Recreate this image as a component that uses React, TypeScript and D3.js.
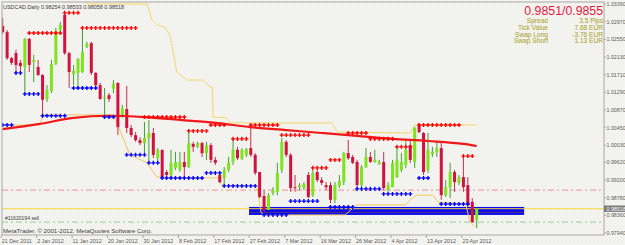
import React from 'react';
import * as d3 from 'd3';

const W = 625;
const H = 245;

// OHLC per daily bar (index 0 = 21 Dec 2011)
const opens = [1.0287,1.0272,1.0210,1.0222,1.0199,1.0189,1.0256,1.0201,1.0189,1.0170,1.0113,1.0132,1.0196,1.0277,1.0313,1.0222,1.0172,1.0175,1.0177,1.0237,1.0246,1.0175,1.0146,1.0115,1.0122,1.0137,1.0151,1.0070,1.0089,1.0044,1.0027,1.0015,1.0008,1.0020,1.0032,0.9972,0.9992,0.9939,0.9932,0.9949,0.9944,0.9963,0.9951,1.0006,0.9999,1.0008,0.9984,1.0003,0.9968,0.9932,0.9925,0.9944,0.9963,0.9992,0.9970,0.9980,0.9996,0.9980,0.9939,0.9882,0.9849,0.9889,0.9892,0.9944,1.0011,0.9980,0.9903,0.9903,0.9901,0.9932,0.9884,0.9939,0.9920,0.9908,0.9908,0.9873,0.9906,0.9915,0.9984,0.9975,0.9963,0.9908,0.9951,0.9975,0.9963,0.9958,0.9963,0.9896,0.9903,0.9927,0.9944,0.9956,1.0003,0.9963,1.0051,1.0032,0.9944,0.9982,0.9987,0.9996,0.9884,0.9903,0.9939,0.9913,0.9927,0.9908,0.9868,0.98254];
const highs = [1.0306,1.0277,1.0213,1.0230,1.0206,1.0258,1.0258,1.0218,1.0206,1.0172,1.0146,1.0206,1.0282,1.0296,1.0318,1.0225,1.0194,1.0210,1.0282,1.0249,1.0249,1.0177,1.0151,1.0139,1.0127,1.0158,1.0153,1.0099,1.0144,1.0051,1.0034,1.0022,1.0058,1.0063,1.0044,0.9996,0.9992,0.9944,0.9992,0.9987,0.9987,0.9987,1.0034,1.0011,1.0011,1.0011,1.0011,1.0008,0.9975,0.9939,0.9951,0.9975,1.0020,0.9999,0.9996,0.9996,1.0051,0.9984,0.9939,0.9896,0.9889,0.9903,0.9961,1.0020,1.0015,0.9984,0.9932,0.9913,0.9915,0.9939,0.9944,0.9944,0.9927,0.9915,0.9915,0.9915,0.9932,0.9987,1.0015,0.9980,0.9968,0.9956,0.9996,0.9987,0.9992,0.9968,0.9987,0.9915,0.9968,0.9999,0.9984,1.0015,1.0015,1.0046,1.0056,1.0034,1.0032,0.9999,1.0011,1.0011,0.9920,0.9961,0.9944,0.9932,0.9980,0.9927,0.9877,0.98533];
const lows = [1.0268,1.0206,1.0194,1.0177,1.0177,1.0130,1.0177,1.0153,1.0168,1.0068,1.0106,1.0127,1.0194,1.0270,1.0218,1.0139,1.0146,1.0139,1.0175,1.0234,1.0170,1.0141,1.0111,1.0068,1.0106,1.0127,1.0027,1.0068,1.0032,1.0022,1.0011,1.0003,0.9984,0.9961,0.9972,0.9961,0.9925,0.9927,0.9927,0.9944,0.9939,0.9927,0.9949,0.9987,0.9996,0.9975,0.9968,0.9961,0.9956,0.9913,0.9908,0.9939,0.9956,0.9968,0.9968,0.9975,0.9975,0.9932,0.9877,0.9844,0.9849,0.9884,0.9884,0.9937,0.9975,0.9892,0.9892,0.9896,0.9896,0.9877,0.9880,0.9915,0.9908,0.9896,0.9865,0.9865,0.9901,0.9908,0.9968,0.9958,0.9901,0.9901,0.9949,0.9961,0.9961,0.9956,0.9896,0.9892,0.9903,0.9925,0.9939,0.9949,0.9961,0.9949,1.0032,0.9932,0.9937,0.9975,0.9975,0.9873,0.9880,0.9877,0.9892,0.9908,0.9892,0.9856,0.9818,0.98058];
const closes = [1.0272,1.0210,1.0199,1.0194,1.0191,1.0256,1.0194,1.0206,1.0170,1.0111,1.0134,1.0196,1.0275,1.0289,1.0222,1.0177,1.0180,1.0208,1.0225,1.0244,1.0175,1.0146,1.0113,1.0118,1.0113,1.0149,1.0046,1.0091,1.0044,1.0027,1.0015,1.0008,1.0020,1.0032,0.9980,0.9992,0.9927,0.9932,0.9961,0.9963,0.9963,0.9951,1.0008,0.9999,1.0008,0.9984,1.0003,0.9968,0.9961,0.9915,0.9944,0.9961,0.9992,0.9972,0.9992,0.9994,0.9980,0.9937,0.9880,0.9849,0.9884,0.9896,0.9937,1.0011,0.9980,0.9901,0.9901,0.9908,0.9911,0.9880,0.9937,0.9920,0.9913,0.9903,0.9873,0.9908,0.9918,0.9984,0.9972,0.9961,0.9908,0.9951,0.9975,0.9963,0.9968,0.9963,0.9901,0.9908,0.9961,0.9968,0.9963,0.9992,0.9968,1.0044,1.0034,0.9939,0.9992,0.9987,0.9996,0.9884,0.9903,0.9939,0.9915,0.9927,0.9903,0.9861,0.9820,0.98518];

// resistance (red) and support (blue) fractal levels: first bar, last bar, price
const resStart = [6,14,18,32,42,47,52,56,63,70,74,78,83,89,94,104];
const resEnd   = [13,17,30,41,46,50,55,62,69,73,76,82,88,92,103,106];
const resLevel = [1.0270,1.0318,1.0282,1.0070,1.0037,1.0051,1.0018,1.0051,1.0027,0.9949,0.9968,1.0032,1.0018,0.9999,1.0051,0.9977];
const supStart = [0,3,5,9,16,23,28,33,36,46,50,59,65,74,80,86,94,99];
const supEnd   = [2,4,8,14,21,25,32,35,45,49,57,64,71,79,85,92,96,105];
const supLevel = [1.0051,1.0175,1.0125,1.0073,1.0139,1.0070,0.9980,0.9961,0.9925,0.9937,0.9906,0.9837,0.9870,0.9856,0.9899,0.9887,0.9925,0.9863];

// moving average
const maBars = [0,8,16,24,32,40,48,56,64,72,80,88,96,104,107];
const maValues = [1.0041,1.0053,1.0068,1.0073,1.0070,1.0063,1.0056,1.0046,1.0039,1.0032,1.0025,1.0018,1.0013,1.0006,1.0001];

// yellow channel lines
const upperBars = [19,19,32.6,33.7,34.8,36.6,37.8,39.3,41.6,45.2,46.8,47.3,47.5,50.5,51.3,74.3,75.5,92,93,107];
const upperValues = [1.0372,1.0339,1.0339,1.0301,1.0289,1.0284,1.0263,1.0177,1.0158,1.0158,1.0141,1.0141,1.0070,1.0068,1.0056,1.0056,1.0034,1.0032,1.0051,1.0051];
const lowerBars = [0,8.4,9.1,24.9,25.8,28.7,32.6,34.8,48.6,49.5,57.4,58.3,58.8,77.3,79.9,91,92,93.5,97.1,98.3,104.5,105.5,106.6];
const lowerValues = [1.0051,1.0051,1.0075,1.0075,1.0056,0.9980,0.9961,0.9927,0.9925,0.9906,0.9906,0.9844,0.9837,0.9837,0.9861,0.9861,0.9873,0.9884,0.9884,0.9868,0.9863,0.9820,0.9808];

// objects
const bandFrom = 55.6, bandTo = 117.7, bandLow = 0.9837, bandHigh = 0.9856, bandMid = 0.9843;
const bidPrice = 0.98518;
const slPrice = 0.9896;
const orderPrice = 0.9820;

const priceTicks = [1.0339,1.0297,1.0255,1.0213,1.0171,1.0129,1.0087,1.0045,1.0003,0.9962,0.9920,0.9878,0.9836,0.9794];
const dateBars = [0,8,16,24,32,40,48,56,64,72,80,88,96,104];
const dateLabels = ['21 Dec 2011','2 Jan 2012','11 Jan 2012','20 Jan 2012','30 Jan 2012','8 Feb 2012','17 Feb 2012','27 Feb 2012','7 Mar 2012','16 Mar 2012','26 Mar 2012','4 Apr 2012','13 Apr 2012','23 Apr 2012'];

const infoLabels = ['Spread','Tick Value','Swap Long','Swap Short'];
const infoValues = ['3.5 Pips','7.68 EUR','-3.76 EUR','1.13 EUR'];
const quoteText = '0.9851/0.9855';
const titleText = 'USDCAD,Daily  0.98254 0.98533 0.98058 0.98518';
const orderText = '#11620194 sell';
const copyText = 'MetaTrader, \u00a9 2001-2012, MetaQuotes Software Corp.';

const PL = 2, PT = 2, PR = 604, PB = 235;
const FONT = '"Liberation Sans", Arial, sans-serif';

export default function App() {
  const x = d3.scaleLinear().domain([0, 107]).range([2.7, 476.7]);
  const y = d3.scaleLinear().domain([0.9794, 1.0339]).range([233, 4]);

  const maLine = d3.line<number>().x((_, i) => x(maBars[i])).y(v => y(v)).curve(d3.curveMonotoneX);
  const upLine = d3.line<number>().x((_, i) => x(upperBars[i])).y(v => y(v));
  const loLine = d3.line<number>().x((_, i) => x(lowerBars[i])).y(v => y(v));
  const cross = d3.symbol().type(d3.symbolCross).size(9)() as string;

  const dots = (starts: number[], ends: number[], levels: number[], color: string, key: string) =>
    starts.flatMap((s, k) => d3.range(s, ends[k] + 1).map(b => (
      <path key={`${key}${k}-${b}`} d={cross} transform={`translate(${x(b)},${y(levels[k])})`} fill={color} />
    )));

  return (
    <svg width={W} height={H} style={{ position: 'absolute', left: 0, top: 0 }} fontFamily={FONT}>
      <defs>
        <pattern id="bg" width="4" height="4" patternUnits="userSpaceOnUse">
          <rect width="4" height="4" fill="#F4F4F1" />
          <rect x="1" y="1" width="1" height="1" fill="#E6E0DF" />
          <rect x="3" y="3" width="1" height="1" fill="#EAE6E2" />
        </pattern>
        <clipPath id="plot"><rect x={PL} y={PT} width={PR - PL} height={PB - PT} /></clipPath>
      </defs>
      <rect width={W} height={H} fill="url(#bg)" />

      <g clipPath="url(#plot)">
        {/* band */}
        <rect x={x(bandFrom)} y={y(bandHigh)} width={x(bandTo) - x(bandFrom)} height={y(bandLow) - y(bandHigh)} fill="#0A0AF0" />
        <line x1={x(bandFrom)} x2={x(bandTo)} y1={y(bandMid)} y2={y(bandMid)} stroke="#8A5030" strokeWidth={0.6} />

        {/* level lines */}
        <line x1={PL} x2={PR} y1={y(slPrice)} y2={y(slPrice)} stroke="#F2A2A8" strokeWidth={1.3} strokeDasharray="6,3,2,3" />
        <line x1={PL} x2={PR} y1={y(orderPrice)} y2={y(orderPrice)} stroke="#A6D6A6" strokeWidth={1.3} strokeDasharray="6,3,2,3" />
        <line x1={PL} x2={PR} y1={y(bidPrice)} y2={y(bidPrice)} stroke="#F8D83A" strokeWidth={1} />

        {/* yellow channel */}
        <path d={upLine(upperValues) || ''} fill="none" stroke="#F6D868" strokeWidth={1} />
        <path d={loLine(lowerValues) || ''} fill="none" stroke="#F2C85A" strokeWidth={1} />

        {/* candles */}
        {opens.map((o, i) => {
          const c = closes[i];
          const up = c >= o;
          const top = y(Math.max(o, c));
          const h = Math.max(1, Math.abs(y(o) - y(c)));
          return (
            <g key={`c${i}`}>
              <line x1={x(i)} x2={x(i)} y1={y(highs[i])} y2={y(lows[i])} stroke={up ? '#3FA030' : '#C83050'} strokeWidth={1} />
              <rect x={x(i) - 1.5} y={top} width={3} height={h} fill={up ? '#7EE41E' : '#D0123E'} />
            </g>
          );
        })}

        {/* moving average */}
        <path d={maLine(maValues) || ''} fill="none" stroke="#F01818" strokeWidth={2.2} />

        {dots(resStart, resEnd, resLevel, '#FF0000', 'r')}
        {dots(supStart, supEnd, supLevel, '#0000FF', 's')}
      </g>

      {/* frame */}
      <rect x={PL} y={PT} width={PR - PL} height={PB - PT} fill="none" stroke="#A8A8A8" strokeWidth={1} />

      {/* price axis */}
      {priceTicks.map(p => (
        <g key={`p${p}`}>
          <line x1={PR} x2={PR + 2} y1={y(p)} y2={y(p)} stroke="#A8A8A8" />
          <text x={PR + 2.5} y={y(p) + 2} fontSize={5.3} fill="#606060">{p.toFixed(5)}</text>
        </g>
      ))}
      <rect x={PR} y={y(bidPrice) - 3.2} width={W - PR} height={6.4} fill="#7A7A7A" />
      <text x={PR + 2.5} y={y(bidPrice) + 2} fontSize={5.3} fill="#FFFFFF">{bidPrice.toFixed(5)}</text>

      {/* date axis */}
      {dateBars.map((b, k) => (
        <g key={`d${b}`}>
          <line x1={x(b) - 1.5} x2={x(b) - 1.5} y1={PB} y2={PB + 3} stroke="#A8A8A8" />
          <text x={x(b) - 1} y={243} fontSize={5.4} fill="#606060">{dateLabels[k]}</text>
        </g>
      ))}

      {/* texts */}
      <text x={3} y={8.5} fontSize={5.6} fill="#404040" textLength={121} lengthAdjust="spacingAndGlyphs">{titleText}</text>
      <text x={603} y={14.5} fontSize={12.3} fill="#E8193F" textAnchor="end">{quoteText}</text>
      {infoLabels.map((l, k) => (
        <g key={`i${k}`}>
          <text x={548} y={23.2 + k * 6.65} fontSize={6.6} fill="#A89E22" textAnchor="end">{l}</text>
          <text x={603} y={23.2 + k * 6.65} fontSize={6.6} fill="#A89E22" textAnchor="end">{infoValues[k]}</text>
        </g>
      ))}
      <text x={5} y={220} fontSize={5.2} fill="#404040" textLength={34} lengthAdjust="spacingAndGlyphs">{orderText}</text>
      <text x={3} y={233} fontSize={6} fill="#404040" textLength={149} lengthAdjust="spacingAndGlyphs">{copyText}</text>
    </svg>
  );
}
